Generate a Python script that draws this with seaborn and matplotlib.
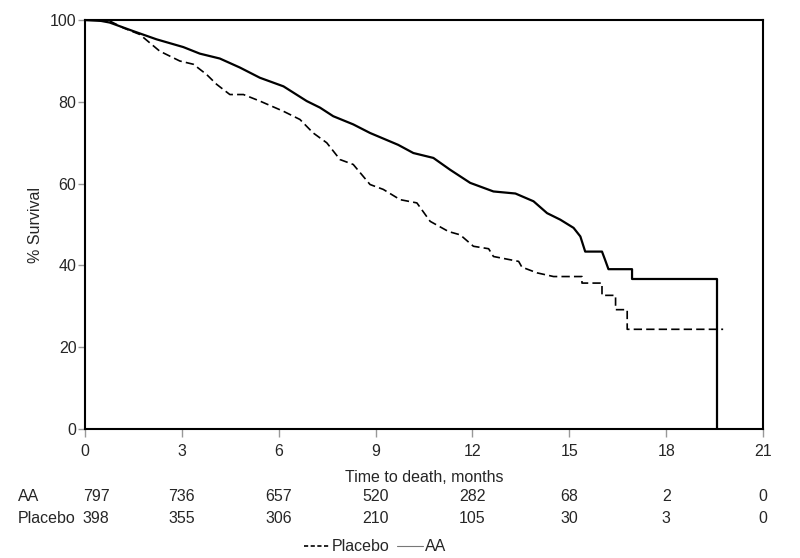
import pandas as pd
import numpy as np
import matplotlib as mpl
mpl.use('Agg')
from matplotlib import pyplot as plt
import seaborn as sns

# survival curves (months, % surviving)
aa_time = [0, 0.5, 0.77, 1.5, 2.22, 3.05, 3.56, 4.18, 4.8, 5.42, 6.15, 6.87, 7.28,
           7.69, 8.31, 8.83, 9.7, 10.17, 10.79, 11.31, 11.93, 12.65, 13.33,
           13.89, 14.31, 14.72, 15.13, 15.34, 15.49, 16.01, 16.1, 16.21,
           16.94, 16.94, 19.57, 19.57]
aa_surv = [100, 99.8, 99.4, 97.3, 95.3, 93.4, 91.8, 90.6, 88.4, 85.9, 83.8, 80.2, 78.6,
           76.5, 74.5, 72.4, 69.5, 67.5, 66.3, 63.4, 60.2, 58.1, 57.6,
           55.7, 52.8, 51.2, 49.2, 47.1, 43.4, 43.4, 41.5, 39.1,
           39.1, 36.7, 36.7, 0]

pl_time = [0, 0.5, 0.77, 1.19, 1.7, 2.32, 2.94, 3.36, 3.77, 4.08, 4.49, 4.91, 5.42,
           6.15, 6.66, 7.07, 7.49, 7.9, 8.31, 8.83, 9.24, 9.76, 10.28, 10.69,
           11.26, 11.62, 12.03, 12.5, 12.65, 13.43, 13.53, 14.0, 14.51, 15.39,
           15.39, 16.01, 16.01, 16.43, 16.43, 16.79, 16.79, 19.76]
pl_surv = [100, 100, 99.8, 98.1, 96.5, 92.4, 90.0, 89.2, 86.7, 84.3, 81.8, 81.8, 80.2,
           77.7, 75.7, 72.4, 70.0, 65.9, 64.7, 59.8, 58.6, 56.1, 55.3, 50.8,
           48.3, 47.5, 44.7, 44.1, 42.2, 41.0, 39.6, 38.2, 37.3, 37.3,
           35.7, 35.7, 32.7, 32.7, 29.2, 29.2, 24.4, 24.4]

# numbers at risk
risk_months = [0, 3, 6, 9, 12, 15, 18, 21]
aa_risk = [797, 736, 657, 520, 282, 68, 2, 0]
pl_risk = [398, 355, 306, 210, 105, 30, 3, 0]

aa = pd.DataFrame({'month': aa_time, 'surv': aa_surv, 'arm': 'AA'})
pl = pd.DataFrame({'month': pl_time, 'surv': pl_surv, 'arm': 'Placebo'})

sns.set_theme(style='white')
plt.rcParams['font.family'] = ['Liberation Sans', 'DejaVu Sans']
fs = 11.5

fig = plt.figure(figsize=(8, 5.58), dpi=100)
ax = fig.add_axes([0.106, 0.231, 0.848, 0.733])

sns.lineplot(data=pl, x='month', y='surv', ax=ax, color='black', lw=1.2,
             linestyle=(0, (5, 2.5)), sort=False, estimator=None)
sns.lineplot(data=aa, x='month', y='surv', ax=ax, color='black', lw=1.6,
             sort=False, estimator=None)

ax.set_xlim(0, 21)
ax.set_ylim(0, 100)
ax.set_xticks(risk_months)
ax.set_yticks([0, 20, 40, 60, 80, 100])
ax.tick_params(axis='both', which='major', direction='out', length=6, width=1,
               color='#999999', labelsize=fs, left=True, bottom=True, pad=3)
ax.tick_params(axis='x', pad=5)
ax.tick_params(axis='y', length=5, pad=1)
for s in ax.spines.values():
    s.set_color('black')
    s.set_linewidth(1.5)
ax.set_xlabel('Time to death, months', fontsize=fs, labelpad=8)
ax.set_ylabel('% Survival', fontsize=fs, labelpad=5)

# risk table under the axis
tr = ax.get_xaxis_transform()
for i, (x, a, p) in enumerate(zip(risk_months, aa_risk, pl_risk)):
    ha = 'left' if i == 0 else 'center'
    xx = x - 0.06 if i == 0 else x
    ax.text(xx, -0.165, str(a), transform=tr, ha=ha, va='center', fontsize=fs)
    ax.text(xx, -0.218, str(p), transform=tr, ha=ha, va='center', fontsize=fs)
fig.text(0.022, 1 - 496.7 / 558, 'AA', ha='left', va='center', fontsize=fs)
fig.text(0.022, 1 - 518.5 / 558, 'Placebo', ha='left', va='center', fontsize=fs)

# legend below the table
h1 = mpl.lines.Line2D([], [], color='black', lw=1.2, linestyle=(0, (2.5, 1.5)))
h2 = mpl.lines.Line2D([], [], color='#777777', lw=0.8)
fig.legend([h1, h2], ['Placebo', 'AA'], loc='center', bbox_to_anchor=(0.469, 0.02),
           ncol=2, frameon=False, fontsize=fs, handlelength=1.6, handletextpad=0.15,
           columnspacing=0.5)

fig.savefig('out.png', dpi=100)
